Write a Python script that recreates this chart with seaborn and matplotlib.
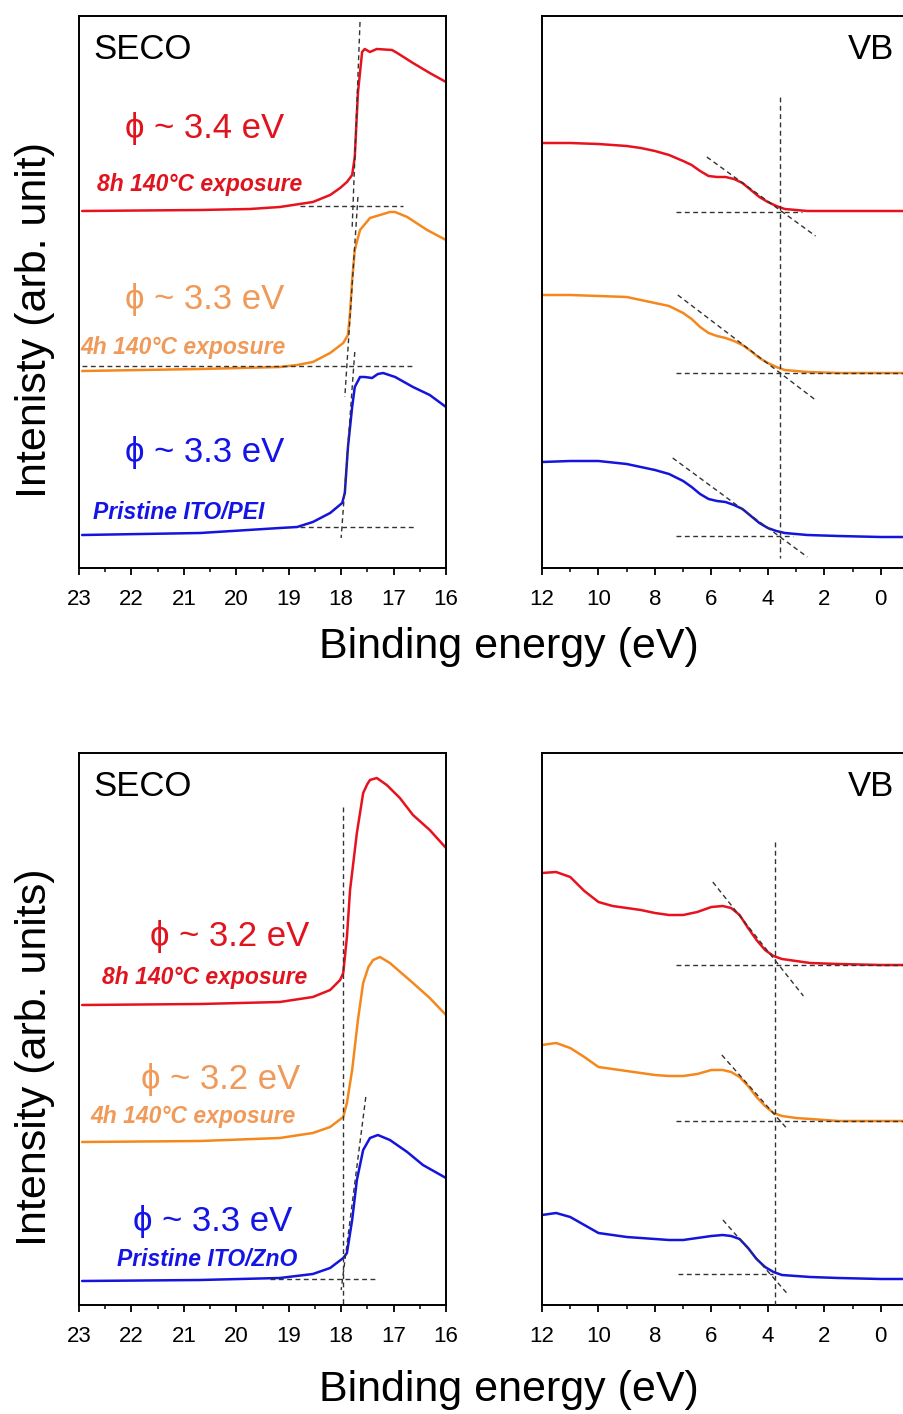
import matplotlib
matplotlib.use("Agg")
import matplotlib.pyplot as plt
import seaborn as sns
from matplotlib.ticker import MultipleLocator

sns.set_style("ticks")
plt.rcParams["font.family"] = ["Liberation Sans", "DejaVu Sans"]
plt.rcParams["axes.linewidth"] = 1.4
plt.rcParams["text.color"] = "black"
plt.rcParams["xtick.color"] = "black"
plt.rcParams["axes.edgecolor"] = "black"

RED, ORANGE, BLUE = "#e8121e", "#f5881c", "#1414dc"
RED_TXT, ORANGE_TXT, BLUE_TXT = "#e0141e", "#f09a5a", "#1414e6"

# ---------------- SECO, ITO/PEI (binding energy eV, intensity arb.) ----------------
pei_seco_x_red = [22.94, 20.69, 19.74, 19.17, 18.54, 18.21, 18.02, 17.89, 17.79, 17.74, 17.68, 17.60,
                  17.55, 17.45, 17.32, 17.03, 16.93, 16.63, 16.31, 16.00]
pei_seco_i_red = [357, 358, 359, 361, 366, 373, 380, 386, 393, 411, 475, 516,
                  519, 516, 519, 518, 515, 505, 495, 486]
pei_seco_x_orange = [22.94, 20.69, 19.17, 18.84, 18.54, 18.21, 17.96, 17.87, 17.83, 17.79, 17.74,
                     17.64, 17.45, 17.26, 17.07, 16.97, 16.74, 16.36, 16.00]
pei_seco_i_orange = [197, 199, 201, 203, 206, 215, 225, 233, 255, 288, 318,
                     338, 350, 353, 356, 356, 351, 338, 328]
pei_seco_x_blue = [22.94, 20.69, 19.17, 18.84, 18.54, 18.21, 17.98, 17.93, 17.87, 17.79, 17.74,
                   17.64, 17.55, 17.41, 17.30, 17.20, 16.97, 16.63, 16.31, 16.00]
pei_seco_i_blue = [33, 35, 40, 41, 46, 55, 65, 75, 121, 161, 181,
                   191, 191, 190, 194, 195, 191, 181, 173, 161]

# ---------------- VB, ITO/PEI ----------------
pei_vb_x = [12.0, 11.0, 10.0, 9.0, 8.5, 8.0, 7.5, 7.0, 6.7, 6.4, 6.1, 5.8, 5.5, 5.2,
            4.9, 4.6, 4.3, 4.0, 3.7, 3.4, 3.0, 2.6, 1.5, 0.0, -1.0]
pei_vb_i_red = [425, 425, 424, 422, 420, 417, 413, 407, 403, 397, 392, 391, 391, 389,
                385, 378, 371, 366, 362, 359, 358, 357, 357, 357, 357]
pei_vb_i_orange = [273, 273, 272, 271, 268, 265, 262, 255, 249, 241, 235, 232, 230, 227,
                   223, 217, 210, 205, 201, 198, 197, 196, 195, 195, 195]
pei_vb_i_blue = [106, 107, 107, 104, 101, 98, 94, 87, 81, 74, 69, 67, 66, 63,
                 59, 52, 45, 40, 37, 35, 34, 33, 32, 31, 31]

# ---------------- SECO, ITO/ZnO ----------------
zno_seco_x_red = [22.94, 20.69, 19.17, 18.54, 18.21, 18.02, 17.96, 17.89, 17.83, 17.70, 17.58,
                  17.50, 17.45, 17.32, 17.13, 16.88, 16.63, 16.31, 16.00]
zno_seco_i_red = [300, 301, 303, 308, 315, 325, 332, 368, 415, 472, 512,
                  521, 525, 527, 520, 507, 490, 475, 457]
zno_seco_x_orange = [22.94, 20.69, 19.17, 18.54, 18.21, 17.96, 17.89, 17.79, 17.68, 17.58,
                     17.48, 17.39, 17.26, 17.07, 16.63, 16.31, 16.00]
zno_seco_i_orange = [163, 164, 167, 172, 178, 188, 202, 235, 285, 322,
                     338, 345, 348, 342, 322, 307, 290]
zno_seco_x_blue = [22.94, 20.69, 19.17, 18.54, 18.21, 17.96, 17.89, 17.79, 17.70, 17.58,
                   17.45, 17.30, 17.07, 16.74, 16.44, 16.00]
zno_seco_i_blue = [24, 25, 27, 31, 37, 47, 52, 85, 125, 155,
                   167, 170, 165, 153, 140, 127]

# ---------------- VB, ITO/ZnO ----------------
zno_vb_x = [12.0, 11.5, 11.0, 10.5, 10.0, 9.5, 9.0, 8.5, 8.0, 7.5, 7.0, 6.5, 6.0, 5.6,
            5.3, 5.0, 4.7, 4.4, 4.1, 3.8, 3.5, 3.0, 2.5, 1.5, 0.0, -1.0]
zno_vb_i_red = [432, 433, 428, 414, 403, 399, 397, 395, 392, 390, 390, 393, 398, 399,
                397, 390, 377, 365, 355, 349, 346, 344, 342, 341, 340, 340]
zno_vb_i_orange = [260, 262, 257, 248, 238, 236, 234, 232, 230, 229, 229, 231, 235, 235,
                   233, 228, 219, 208, 199, 192, 189, 187, 186, 184, 184, 184]
zno_vb_i_blue = [90, 92, 88, 80, 72, 70, 68, 67, 66, 65, 65, 67, 69, 70,
                 69, 66, 57, 46, 38, 33, 30, 29, 28, 27, 26, 26]

# ---------------- onset construction lines: (x0, x1, i0, i1) ----------------
pei_seco_guides = [(17.64, 17.79, 546, 340), (18.78, 16.82, 362, 362),
                   (17.68, 17.93, 371, 171), (22.94, 16.59, 202, 202),
                   (17.74, 18.00, 216, 30), (18.78, 16.59, 41, 41)]
pei_vb_guides = [(3.56, 3.56, 471, 10),
                 (6.16, 2.31, 411, 332), (7.25, 2.80, 356, 356),
                 (7.19, 2.31, 273, 168), (7.25, -1.0, 195, 195),
                 (7.37, 2.60, 110, 11), (7.25, 3.10, 32, 32)]
zno_seco_guides = [(17.96, 17.96, 498, 0),
                   (17.53, 18.00, 208, 15), (19.36, 17.32, 26, 26)]
zno_vb_guides = [(3.74, 3.74, 463, 0),
                 (5.95, 2.74, 423, 309), (7.25, -1.0, 340, 340),
                 (5.63, 3.31, 250, 176), (7.25, -1.0, 184, 184),
                 (5.59, 3.27, 85, 10), (7.19, 3.81, 31, 31)]

# ---------------- annotations ----------------
pei_phi = ["ϕ ~ 3.4 eV", "ϕ ~ 3.3 eV", "ϕ ~ 3.3 eV"]
pei_cond = ["8h 140°C exposure", "4h 140°C exposure", "Pristine ITO/PEI"]
zno_phi = ["ϕ ~ 3.2 eV", "ϕ ~ 3.2 eV", "ϕ ~ 3.3 eV"]
zno_cond = ["8h 140°C exposure", "4h 140°C exposure", "Pristine ITO/ZnO"]

W, H = 904, 1414
fig = plt.figure(figsize=(W / 100, H / 100), dpi=100)


def axes_at(left, bottom_px):
    return fig.add_axes([left / W, 1 - bottom_px / H, 367 / W, 552 / H])


ax_tl = axes_at(79, 568)
ax_tr = axes_at(542, 568)
ax_bl = axes_at(79, 1305)
ax_br = axes_at(542, 1305)

LW = 1.8


def draw_curves(ax, xs, ys):
    for x, y, c in zip(xs, ys, [RED, ORANGE, BLUE]):
        sns.lineplot(x=x, y=y, ax=ax, color=c, lw=LW, estimator=None, sort=False, legend=False)


def draw_guides(ax, guides):
    for x0, x1, i0, i1 in guides:
        ax.plot([x0, x1], [i0, i1], color="#333333", lw=1.0, ls=(0, (3.5, 2.5)), zorder=3)


draw_curves(ax_tl, [pei_seco_x_red, pei_seco_x_orange, pei_seco_x_blue],
            [pei_seco_i_red, pei_seco_i_orange, pei_seco_i_blue])
draw_curves(ax_tr, [pei_vb_x] * 3, [pei_vb_i_red, pei_vb_i_orange, pei_vb_i_blue])
draw_curves(ax_bl, [zno_seco_x_red, zno_seco_x_orange, zno_seco_x_blue],
            [zno_seco_i_red, zno_seco_i_orange, zno_seco_i_blue])
draw_curves(ax_br, [zno_vb_x] * 3, [zno_vb_i_red, zno_vb_i_orange, zno_vb_i_blue])

draw_guides(ax_tl, pei_seco_guides)
draw_guides(ax_tr, pei_vb_guides)
draw_guides(ax_bl, zno_seco_guides)
draw_guides(ax_br, zno_vb_guides)

for ax in (ax_tl, ax_bl):
    ax.set_xlim(23, 16)
    ax.xaxis.set_major_locator(MultipleLocator(1))
    ax.xaxis.set_minor_locator(MultipleLocator(0.5))
for ax in (ax_tr, ax_br):
    ax.set_xlim(12, -1)
    ax.xaxis.set_major_locator(MultipleLocator(2))
    ax.xaxis.set_minor_locator(MultipleLocator(1))

for ax in (ax_tl, ax_tr, ax_bl, ax_br):
    ax.set_ylim(0, 552)
    ax.set_yticks([])
    ax.set_xlabel("")
    ax.set_ylabel("")
    ax.tick_params(axis="x", which="major", direction="out", length=5, width=1.3,
                   labelsize=16, pad=10, colors="black")
    ax.tick_params(axis="x", which="minor", direction="out", length=3, width=1.1, colors="black")
    for s in ax.spines.values():
        s.set_visible(True)
        s.set_color("black")
    ax.set_facecolor("white")

# panel titles
for ax in (ax_tl, ax_bl):
    ax.text(0.038, 0.94, "SECO", transform=ax.transAxes, fontsize=25, va="center", ha="left")
for ax in (ax_tr, ax_br):
    ax.text(0.834, 0.94, "VB", transform=ax.transAxes, fontsize=25, va="center", ha="left")

# work-function and condition labels
txt_colors = [RED_TXT, ORANGE_TXT, BLUE_TXT]
pei_phi_pos = [(0.125, 0.797), (0.125, 0.486), (0.125, 0.210)]
pei_cond_pos = [(0.049, 0.694), (0.004, 0.400), (0.038, 0.101)]
zno_phi_pos = [(0.193, 0.667), (0.169, 0.408), (0.147, 0.152)]
zno_cond_pos = [(0.063, 0.594), (0.030, 0.341), (0.104, 0.083)]

for ax, phis, conds, ppos, cpos in [(ax_tl, pei_phi, pei_cond, pei_phi_pos, pei_cond_pos),
                                    (ax_bl, zno_phi, zno_cond, zno_phi_pos, zno_cond_pos)]:
    for t, (x, y), c in zip(phis, ppos, txt_colors):
        ax.text(x, y, t, transform=ax.transAxes, fontsize=25, color=c, va="center", ha="left")
    for t, (x, y), c in zip(conds, cpos, txt_colors):
        ax.text(x, y, t, transform=ax.transAxes, fontsize=16.5, color=c, va="center", ha="left",
                fontweight="bold", fontstyle="italic")

# shared axis labels
fig.text(0.563, 1 - 647 / H, "Binding energy (eV)", fontsize=31, ha="center", va="center")
fig.text(0.563, 1 - 1390 / H, "Binding energy (eV)", fontsize=31, ha="center", va="center")
fig.text(35 / W, 1 - 320 / H, "Intenisty (arb. unit)", fontsize=31, rotation=90,
         ha="center", va="center")
fig.text(35 / W, 1 - 1057 / H, "Intensity (arb. units)", fontsize=31, rotation=90,
         ha="center", va="center")

fig.savefig("out.png", dpi=100, facecolor="white")
